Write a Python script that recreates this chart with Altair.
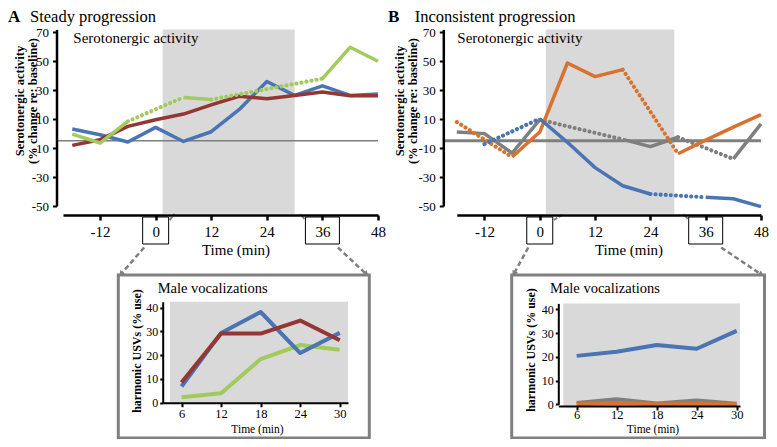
import math
import altair as alt
import pandas as pd

# ---------------- data ----------------
times_main = [-18, -12, -6, 0, 6, 12, 18, 24, 30, 36, 42, 48]
a_blue  = [3.2, -0.8, -5.8, 4.3, -5.4, 1.3, 16.5, 36.0, 26.4, 33.0, 26.4, 27.4]
a_red   = [-8.1, -4.2, 5.0, 9.6, 13.5, 19.8, 25.8, 24.1, 26.4, 28.8, 26.2, 26.2]
a_green = [-0.3, -6.5, 8.5, None, 25.0, 23.5, None, None, None, 38.0, 59.7, 50.0]
b_blue   = [None, -7.2, None, 10.3, -6.0, -23.5, -36.0, -41.7, None, -44.0, -45.0, -50.4]
b_orange = [8.0, None, -16.2, 1.1, 48.8, 39.4, 44.2, None, -13.9, -4.5, 4.5, 13.1]
b_gray   = [1.1, 0.0, -13.4, 9.6, None, None, -4.0, -9.0, -2.5, None, -17.5, 6.7]

times_inset = [6, 12, 18, 24, 30]
ia_blue  = [6.8, 29.4, 38.2, 20.9, 29.4]
ia_red   = [8.5, 29.1, 29.1, 34.6, 26.3]
ia_green = [2.3, 4.0, 18.4, 24.3, 22.3]
ib_gray   = [0.6, 2.1, 0.3, 1.6, 0.2]
ib_orange = [0.0, 0.5, 0.0, 0.1, 0.0]
ib_blue   = [20.4, 22.1, 25.0, 23.4, 30.9]

main_y_ticks = [-50, -30, -10, 10, 30, 50, 70]
main_x_ticks = [-12, 0, 12, 24, 36, 48]
boxed_ticks = [0, 36]
inset_y_ticks = [0, 10, 20, 30, 40]
inset_x_ticks = [6, 12, 18, 24, 30]
baseline_value = [-5]
stim_a = [1.5, 30.0]
stim_b = [1.3, 29.2]
inset_bg_a = [4.25, 31.25, 0.0, 42.5]
inset_bg_b = [4.0, 30.5, -0.7, 42.5]

# ---------------- layout (svg pixel coordinates) ----------------
W, H = 761, 431
SERIF = "'Liberation Serif', 'Times New Roman', Times, 'DejaVu Serif', serif"
COL = {"blue": "#4A74B4", "red": "#943634", "green": "#A2CA5C",
       "orange": "#D8722F", "gray": "#7F7F7F"}
SHADE = "#D9D9D9"

GEOM = {
    "A":  dict(xd=[-20, 48], xr=[55, 370], yd=[-50, 72], yr=[198, 21.4], yaxis=48.5, xaxis=207, lp=16),
    "B":  dict(xd=[-18, 48], xr=[448.8, 753], yd=[-50, 72], yr=[198, 21.4], yaxis=435.3, xaxis=207, lp=16),
    "IA": dict(xd=[3.14, 31.25], xr=[154.7, 340], yd=[0, 42.5], yr=[394.7, 293.8], yaxis=154.7, xaxis=394.7, lp=11),
    "IB": dict(xd=[3.25, 30.5], xr=[550.3, 732], yd=[0, 42.5], yr=[396.3, 295.4], yaxis=550.3, xaxis=398, lp=8.5),
}
one = pd.DataFrame({"k": [0]})


def sx(p):
    g = GEOM[p]
    return alt.Scale(domain=g["xd"], range=g["xr"], nice=False, zero=False)


def sy(p):
    g = GEOM[p]
    return alt.Scale(domain=g["yd"], range=g["yr"], nice=False, zero=False)


def px_x(p, v):
    g = GEOM[p]
    d0, d1 = g["xd"]
    r0, r1 = g["xr"]
    return r0 + (v - d0) / (d1 - d0) * (r1 - r0)


def build_segments(times, values):
    idx = [i for i, v in enumerate(values) if v is not None]
    rows, seg, cur = [], 0, None
    for k in range(len(idx) - 1):
        i0, i1 = idx[k], idx[k + 1]
        style = "solid" if i1 - i0 == 1 else "dotted"
        if style == "dotted" or style != cur:
            seg += 1
            rows.append({"t": times[i0], "v": values[i0], "seg": seg, "style": style})
        rows.append({"t": times[i1], "v": values[i1], "seg": seg, "style": style})
        cur = style
    return pd.DataFrame(rows)


def series_layers(p, times, values, color, width):
    df = build_segments(times, values)
    out = []
    for style in ("solid", "dotted"):
        sub = df[df["style"] == style]
        if sub.empty:
            continue
        if style == "solid":
            m = alt.Chart(sub).mark_line(color=color, strokeWidth=width, strokeJoin="round")
        else:
            m = alt.Chart(sub).mark_line(color=color, strokeWidth=width + 0.6, strokeCap="round",
                                         strokeDash=[0.1, 5.0])
        out.append(m.encode(x=alt.X("t:Q", scale=sx(p), axis=None),
                            y=alt.Y("v:Q", scale=sy(p), axis=None),
                            detail="seg:N"))
    return out


def axis_common(**kw):
    base = dict(grid=False, domainColor="black", tickColor="black", labelColor="black",
                labelFont=SERIF, labelFlush=False, labelOverlap=False, labelBound=False,
                labelExpr="'' + datum.value", title=None, zindex=1)
    base.update(kw)
    return alt.Axis(**base)


def shade_layer(p, x0, x1, y0, y1, xaxis, yaxis):
    df = pd.DataFrame({"x0": [x0], "x1": [x1], "y0": [y0], "y1": [y1]})
    return alt.Chart(df).mark_rect(fill=SHADE).encode(
        x=alt.X("x0:Q", scale=sx(p), axis=xaxis), x2="x1:Q",
        y=alt.Y("y0:Q", scale=sy(p), axis=yaxis), y2="y1:Q")


def main_axes(p):
    g = GEOM[p]
    xa = axis_common(orient="bottom", offset=g["xaxis"] - H, values=main_x_ticks,
                     domainWidth=2.5, tickWidth=2.5, tickSize=5, labelFontSize=15,
                     labelPadding=g["lp"], labelBaseline="alphabetic")
    ya = axis_common(orient="left", offset=-g["yaxis"], values=main_y_ticks,
                     domainWidth=2.5, tickWidth=2, tickSize=4, labelFontSize=13,
                     labelPadding=4)
    return xa, ya


def inset_axes(p):
    g = GEOM[p]
    xa = axis_common(orient="bottom", offset=g["xaxis"] - H, values=inset_x_ticks,
                     domainWidth=2, tickWidth=2, tickSize=4, labelFontSize=12.5,
                     labelPadding=g["lp"], labelBaseline="alphabetic")
    ya = axis_common(orient="left", offset=-g["yaxis"], values=inset_y_ticks,
                     domainWidth=2, tickWidth=2, tickSize=3, labelFontSize=12,
                     labelPadding=2)
    return xa, ya


def text(txt, x, y, size, weight="normal", angle=0, align="left", baseline="alphabetic", lh=None):
    kw = dict(font=SERIF, fontSize=size, fontWeight=weight, align=align,
              baseline=baseline, color="black")
    if angle:
        kw["angle"] = angle
    if lh:
        kw["lineHeight"] = lh
    return alt.Chart(one).mark_text(**kw).encode(
        x=alt.value(x), y=alt.value(y), text=alt.value(txt))


def rule_px(x1, y1, x2, y2, color, width, dash=None):
    kw = dict(color=color, strokeWidth=width)
    if dash:
        kw["strokeDash"] = dash
    return alt.Chart(one).mark_rule(**kw).encode(
        x=alt.value(x1), y=alt.value(y1), x2=alt.value(x2), y2=alt.value(y2))


layers = []

# ---- main panels ----
for p, stim, series, base_w, base_x in (
    ("A", stim_a, [(a_blue, "blue"), (a_red, "red"), (a_green, "green")], 1.5, (48.5, 370)),
    ("B", stim_b, [(b_gray, "gray"), (b_orange, "orange"), (b_blue, "blue")], 3, (437, 753)),
):
    xa, ya = main_axes(p)
    layers.append(shade_layer(p, stim[0], stim[1], -55.4, 72, xa, ya))
    bdf = pd.DataFrame({"b": baseline_value})
    layers.append(alt.Chart(bdf).mark_rule(color=COL["gray"], strokeWidth=base_w).encode(
        x=alt.value(base_x[0]), x2=alt.value(base_x[1]),
        y=alt.Y("b:Q", scale=sy(p), axis=None)))
    for vals, c in series:
        layers += series_layers(p, times_main, vals, COL[c], 3.5)

# ---- insets ----
for p, bg, series in (
    ("IA", inset_bg_a, [(ia_green, "green"), (ia_blue, "blue"), (ia_red, "red")]),
    ("IB", inset_bg_b, [(ib_gray, "gray"), (ib_orange, "orange"), (ib_blue, "blue")]),
):
    xa, ya = inset_axes(p)
    layers.append(shade_layer(p, bg[0], bg[1], bg[2], bg[3], xa, ya))
    for vals, c in series:
        layers += series_layers(p, times_inset, vals, COL[c], 4)

# ---- boxes around tick labels "0" and "36" ----
box_rows = []
for p in ("A", "B"):
    for v in boxed_ticks:
        half = 13 if v < 10 else 17
        c = px_x(p, v)
        box_rows.append({"x0": c - half, "x1": c + half, "y0": 209, "y1": 236, "p": p, "v": v})
boxes = pd.DataFrame(box_rows)
layers.append(alt.Chart(boxes).mark_rect(fillOpacity=0, stroke="black", strokeWidth=1).encode(
    x=alt.X("x0:Q", scale=None, axis=None), x2="x1:Q",
    y=alt.Y("y0:Q", scale=None, axis=None), y2="y1:Q"))

# ---- inset frames ----
frames = {"IA": (110.3, 361.3, 267, 430), "IB": (503.7, 756.5, 267, 430)}
for (x0, x1, y0, y1) in frames.values():
    layers.append(alt.Chart(one).mark_rect(fillOpacity=0, stroke="#808080", strokeWidth=3).encode(
        x=alt.value(x0), x2=alt.value(x1), y=alt.value(y0), y2=alt.value(y1)))

# ---- dashed arrows from boxed ticks to the inset frames ----
arrow_rows = []
for p, ip in (("A", "IA"), ("B", "IB")):
    fx0, fx1, fy0, _ = frames[ip]
    b0 = boxes[(boxes.p == p) & (boxes.v == 0)].iloc[0]
    b36 = boxes[(boxes.p == p) & (boxes.v == 36)].iloc[0]
    arrow_rows.append((b0.x0 + 1.5, b0.y1 + 3.5, fx0 + 1, fy0 + 1))
    arrow_rows.append((b36.x1 - 1.5, b36.y1 + 3.5, fx1 - 1, fy0 + 1))
heads = []
for (sx0, sy0, tx, ty) in arrow_rows:
    dx, dy = tx - sx0, ty - sy0
    L = math.hypot(dx, dy)
    ux, uy = dx / L, dy / L
    layers.append(rule_px(sx0, sy0, tx - 5 * ux, ty - 5 * uy, "#7F7F7F", 2.5, [5, 3]))
    heads.append({"x": tx - 3.5 * ux, "y": ty - 3.5 * uy,
                  "a": math.degrees(math.atan2(dx, -dy)) % 360})
layers.append(alt.Chart(pd.DataFrame(heads)).mark_point(
    shape="triangle", filled=True, size=40, color="#7F7F7F", opacity=1).encode(
    x=alt.X("x:Q", scale=None, axis=None), y=alt.Y("y:Q", scale=None, axis=None),
    angle=alt.Angle("a:Q", scale=None)))

# small dashed ticks near the boxes
for p in ("A", "B"):
    b0 = boxes[(boxes.p == p) & (boxes.v == 0)].iloc[0]
    b36 = boxes[(boxes.p == p) & (boxes.v == 36)].iloc[0]
    layers.append(rule_px(b0.x1 + 1, b0.y0 + 3, b0.x1 + 6 + (5 if p == "B" else 0), b0.y0 - 3, "#7F7F7F", 2, [4, 2]))
    layers.append(rule_px(b36.x0 - 1, b36.y0 + 2, b36.x0 - 5, b36.y0 - 3, "#7F7F7F", 2, [4, 2]))

# ---- texts ----
layers += [
    text("A", 0, 14, 17, "bold"),
    text("Steady progression", 22, 14, 16.5),
    text("B", 380, 14, 17, "bold"),
    text("Inconsistent  progression", 406.7, 14, 16.5),
    text("Serotonergic activity", 65.3, 35.3, 15),
    text("Serotonergic activity", 449.3, 35.3, 15),
    text(["Serotonergic activity", "(% change re: baseline)"], 11.5, 93, 12.5, "bold",
         angle=270, align="center", baseline="middle", lh=13),
    text(["Serotonergic activity", "(% change re: baseline)"], 392, 93, 12.5, "bold",
         angle=270, align="center", baseline="middle", lh=13),
    text("Time (min)", 228, 247, 15, align="center"),
    text("Time (min)", 621, 247, 15, align="center"),
    text("Male vocalizations", 149.7, 285.3, 14.5),
    text("Male vocalizations", 542, 285.3, 14.5),
    text("harmonic USVs (% use)", 129, 343, 12, "bold", angle=270, align="center", baseline="middle"),
    text("harmonic USVs (% use)", 523, 342, 12, "bold", angle=270, align="center", baseline="middle"),
    text("Time (min)", 249.5, 425, 11.5, align="center"),
    text("Time (min)", 645, 425, 11.5, align="center"),
]

chart = alt.layer(*layers).resolve_scale(x="independent", y="independent").properties(
    width=W, height=H, padding=0, autosize=alt.AutoSizeParams(type="none"),
    background="white",
).configure_view(strokeWidth=0)

chart.save("out.html", embed_options={"renderer": "svg", "actions": False})
